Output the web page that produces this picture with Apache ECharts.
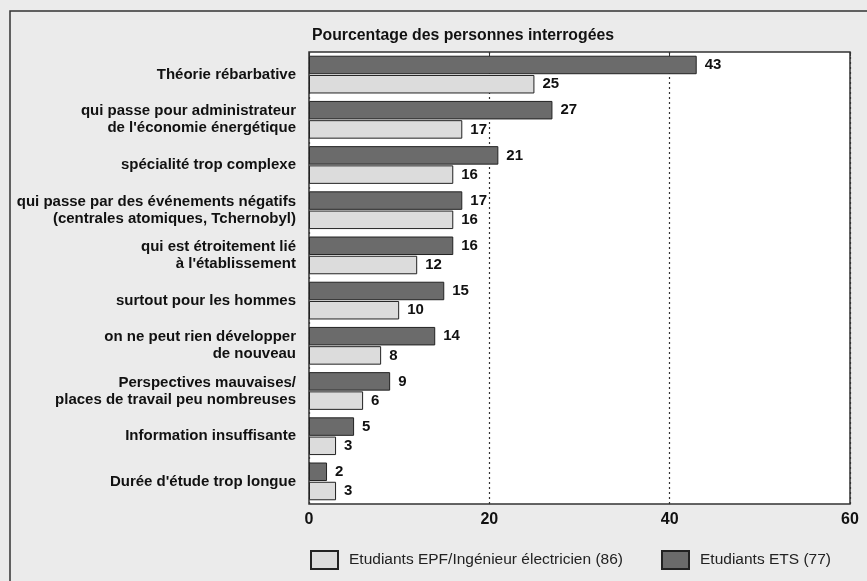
<!DOCTYPE html>
<html>
<head>
<meta charset="utf-8">
<script src="https://cdn.jsdelivr.net/npm/echarts@6/dist/echarts.min.js"></script>
<style>
  html, body { margin: 0; padding: 0; background: #ebebeb; }
  #chart { width: 867px; height: 581px; }
</style>
</head>
<body>
<div id="chart"></div>
<script>
// categories, top to bottom
var categories = [
  'Théorie rébarbative',
  'qui passe pour administrateur\nde l\'économie énergétique',
  'spécialité trop complexe',
  'qui passe par des événements négatifs\n(centrales atomiques, Tchernobyl)',
  'qui est étroitement lié\nà l\'établissement',
  'surtout pour les hommes',
  'on ne peut rien développer\nde nouveau',
  'Perspectives mauvaises/\nplaces de travail peu nombreuses',
  'Information insuffisante',
  'Durée d\'étude trop longue'
];
var etsValues = [43, 27, 21, 17, 16, 15, 14, 9, 5, 2];
var epfValues = [25, 17, 16, 16, 12, 10, 8, 6, 3, 3];
var xTicks = [0, 20, 40, 60];

var nameETS = 'Etudiants ETS (77)';
var nameEPF = 'Etudiants EPF/Ingénieur électricien (86)';

var font = '"Liberation Sans", Arial, sans-serif';

var myChart = echarts.init(document.getElementById('chart'));

var valueLabel = {
  show: true,
  position: 'right',
  distance: 8,
  color: '#111',
  fontWeight: 'bold',
  fontSize: 15,
  fontFamily: font
};

var legendBase = {
  top: 545,
  itemWidth: 27,
  itemHeight: 18,
  icon: 'rect',
  textStyle: { fontSize: 15.5, color: '#222', fontFamily: font, padding: [0, 0, 0, 6] }
};

myChart.setOption({
  backgroundColor: '#ebebeb',
  textStyle: { fontFamily: font },
  animation: false,
  title: {
    text: 'Pourcentage des personnes interrogées',
    left: 307,
    top: 23,
    textStyle: { fontSize: 15.8, fontWeight: 'bold', color: '#111', fontFamily: font }
  },
  graphic: [{
    type: 'rect',
    shape: { x: 10, y: 11, width: 870, height: 600 },
    style: { fill: 'none', stroke: '#333', lineWidth: 1.5 },
    z: -1
  }],
  legend: [
    Object.assign({ data: [nameEPF], left: 305 }, legendBase),
    Object.assign({ data: [nameETS], left: 656 }, legendBase)
  ],
  grid: {
    left: 309,
    right: 17,
    top: 52,
    bottom: 77,
    show: true,
    backgroundColor: '#ffffff',
    borderColor: '#333',
    borderWidth: 1.5
  },
  xAxis: [{
    type: 'value',
    min: 0,
    max: 60,
    interval: 20,
    position: 'bottom',
    axisLine: { show: false },
    axisTick: { show: false },
    axisLabel: {
      margin: 8,
      fontSize: 16,
      fontWeight: 'bold',
      color: '#111',
      fontFamily: font,
      formatter: function (v) { return xTicks.indexOf(v) >= 0 ? String(v) : ''; }
    },
    splitLine: { show: true, lineStyle: { type: [2, 3], color: '#333', width: 1.2 } }
  }, {
    type: 'value',
    min: 0,
    max: 60,
    interval: 20,
    position: 'top',
    axisLine: { show: false },
    axisTick: { show: true, inside: true, length: 4, lineStyle: { color: '#333' } },
    axisLabel: { show: false },
    splitLine: { show: false }
  }],
  yAxis: {
    type: 'category',
    inverse: true,
    data: categories,
    axisLine: { show: false },
    axisTick: { show: false },
    axisLabel: {
      margin: 13,
      fontSize: 15,
      fontWeight: 'bold',
      color: '#111',
      lineHeight: 17,
      fontFamily: font
    }
  },
  series: [
    {
      name: nameETS,
      type: 'bar',
      data: etsValues,
      barWidth: 18.5,
      barGap: '4%',
      itemStyle: { color: '#6b6b6b', borderColor: '#222', borderWidth: 1 },
      label: valueLabel
    },
    {
      name: nameEPF,
      type: 'bar',
      data: epfValues,
      barWidth: 18.5,
      barGap: '4%',
      itemStyle: { color: '#dcdcdc', borderColor: '#222', borderWidth: 1 },
      label: valueLabel
    }
  ]
});
</script>
</body>
</html>
